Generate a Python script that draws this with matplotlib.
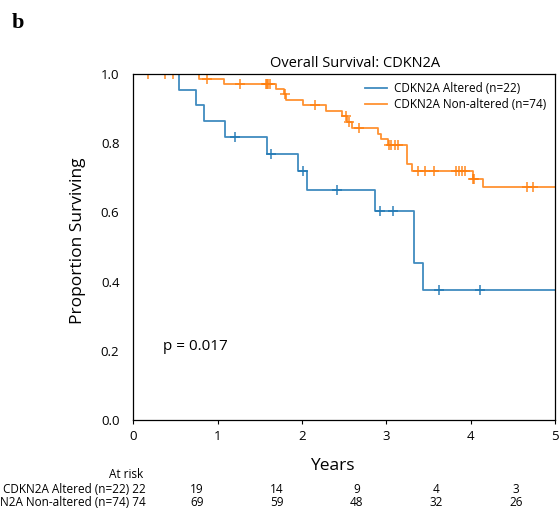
import numpy as np
import matplotlib
matplotlib.use("Agg")
import matplotlib.pyplot as plt
import matplotlib.transforms as mtransforms

plt.rcParams['font.family'] = ['Open Sans', 'DejaVu Sans']

# ---------------- data ----------------
labels = ["CDKN2A Altered (n=22)", "CDKN2A Non-altered (n=74)"]
colors = ["#1f77b4", "#ff7f0e"]

# Altered group: event times (deaths) and censor times (years)
alt_deaths = [0.54, 0.74, 0.835, 1.09, 1.58, 1.95, 2.06, 2.87, 3.33, 3.33, 3.44]
alt_censored = [1.21, 1.63, 2.01, 2.42, 2.92, 3.08, 3.62, 4.11, 5.6, 5.9, 6.3]

# Non-altered group
non_deaths = [0.78, 1.07, 1.69, 1.79, 1.81, 2.01, 2.28, 2.48, 2.535, 2.59,
              2.90, 2.94, 3.02, 3.24, 3.245, 3.25, 3.31, 4.025, 4.15]
non_censored = [0.17, 0.37, 0.47, 0.87, 1.27, 1.57, 1.585, 1.60, 1.62, 1.80,
                2.15, 2.52, 2.56, 2.68, 3.035, 3.05, 3.10, 3.14, 3.37, 3.46,
                3.56, 3.83, 3.86, 3.90, 3.93, 4.03, 4.045, 4.67, 4.745] + \
               [5.2, 5.3, 5.4, 5.5, 5.6, 5.7, 5.8, 5.9, 6.0, 6.1, 6.2, 6.3, 6.4,
                6.5, 6.6, 6.7, 6.8, 6.9, 7.0, 7.1, 7.2, 7.3, 7.4, 7.5, 7.6, 7.7]

risk_times = [0, 1, 2, 3, 4, 5]
x_ticks = [0, 1, 2, 3, 4, 5]
y_ticks = [0.0, 0.2, 0.4, 0.6, 0.8, 1.0]
p_text = "p = 0.017"
title = "Overall Survival: CDKN2A"


def km_curve(deaths, censored):
    d = np.array(list(deaths) + list(censored), dtype=float)
    e = np.array([1] * len(deaths) + [0] * len(censored))
    times = np.unique(d[e == 1])
    s = 1.0
    tx, sy = [0.0], [1.0]
    for t in times:
        n = np.sum(d >= t)
        k = np.sum((d == t) & (e == 1))
        s *= 1 - k / n
        tx.append(t)
        sy.append(s)
    tx.append(d.max())
    sy.append(s)
    tx, sy = np.array(tx), np.array(sy)

    def surv(t):
        idx = np.searchsorted(tx[:-1], t, side='right') - 1
        return sy[idx]

    cens = np.array(censored, dtype=float)
    return tx, sy, cens, surv(cens), d


fig = plt.figure(figsize=(5.6, 5.16), dpi=100)
ax = fig.add_axes([133.3 / 560, 1 - 420 / 516, 421.7 / 560, 346 / 516])

groups = [(alt_deaths, alt_censored), (non_deaths, non_censored)]
all_d = []
for (de, ce), lab, col in zip(groups, labels, colors):
    tx, sy, cx, cy, d = km_curve(de, ce)
    all_d.append(d)
    ax.plot(tx, sy, drawstyle='steps-post', color=col, lw=1.3, alpha=0.85,
            label=lab)
    ax.plot(cx, cy, ls='none', marker='+', ms=7, mew=1.2, color=col,
            alpha=0.85)

ax.set_xlim(0, 5)
ax.set_ylim(0, 1)
ax.set_xticks(x_ticks)
ax.set_yticks(y_ticks)
ax.set_yticklabels([f"{v:.1f}" for v in y_ticks])
ax.tick_params(axis='x', length=3, width=0.8, direction='out', pad=4,
               labelsize=9.5)
ax.tick_params(axis='y', length=0, pad=10, labelsize=9.5)
for sp in ax.spines.values():
    sp.set_linewidth(0.9)
    sp.set_color('black')

ax.set_title(title, fontsize=10.5, pad=5, x=0.527)
ax.set_xlabel("Years", fontsize=12.5)
ax.xaxis.set_label_coords(0.471, -0.133)
ax.xaxis.label.set_va('center')
ax.set_ylabel("Proportion Surviving", fontsize=12.5)
ax.yaxis.set_label_coords(-0.131, 0.517)
ax.yaxis.label.set_va('center')

ax.text(0.35, 0.212, p_text, fontsize=11, va='center', ha='left')

leg = ax.legend(loc='upper right', frameon=False, fontsize=8.5,
                handlelength=1.9, handletextpad=0.6, borderaxespad=0.3,
                labelspacing=0.25, bbox_to_anchor=(1.0, 1.0))

# at-risk table
trans = mtransforms.blended_transform_factory(ax.transData, fig.transFigure)
row_y = [1 - 489.5 / 516, 1 - 502.5 / 516]
fig.text(143 / 560, 1 - 475 / 516, "At risk", fontsize=8.5, ha='right',
         va='center')
for lab, d, yy in zip(labels, all_d, row_y):
    counts = [int(np.sum(d >= t)) for t in risk_times]
    ax.text(0.15, yy, f"{lab} {counts[0]}", transform=trans, fontsize=8.5,
            ha='right', va='center', clip_on=False)
    for t, c in zip(risk_times[1:], counts[1:]):
        ax.text(-0.19 + 0.946 * t, yy, str(c), transform=trans, fontsize=8.5,
                ha='center', va='center', clip_on=False)

fig.text(18 / 560, 1 - 23 / 516, "b", fontsize=16, fontweight='bold',
         family='Liberation Serif', ha='center', va='center')

fig.savefig("out.png", dpi=100)
